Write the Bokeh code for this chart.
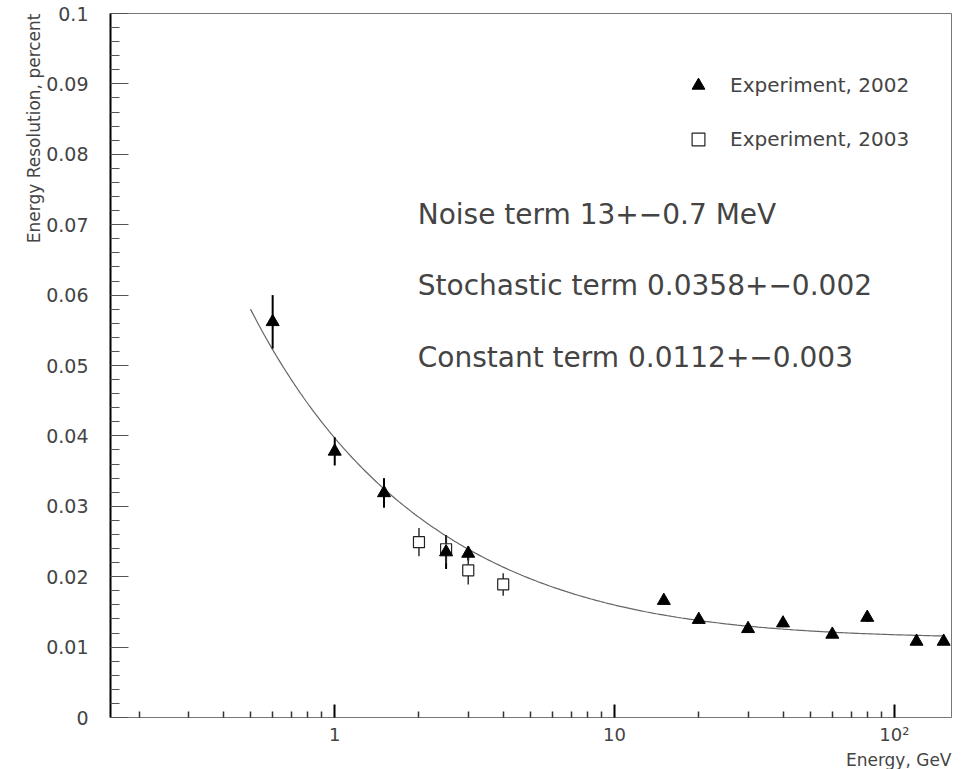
import numpy as np
from bokeh.plotting import figure
from bokeh.models import FixedTicker, Label, Legend, LegendItem, Title
from bokeh.embed import file_html
from bokeh.resources import INLINE

# ---------------- data ----------------
e2002 = [0.6, 1.0, 1.5, 2.5, 3.0, 15, 20, 30, 40, 60, 80, 120, 150]
r2002 = [0.0562, 0.0378, 0.0319, 0.0235, 0.0233, 0.0166, 0.0139, 0.0126, 0.0134, 0.0118, 0.0142, 0.0108, 0.0108]
err2002 = [0.0038, 0.0020, 0.0021, 0.0024, 0.0010, 0.0005, 0.0003, 0.0003, 0.0003, 0.0003, 0.0006, 0.0003, 0.0003]

e2003 = [2.0, 2.5, 3.0, 4.0]
r2003 = [0.0249, 0.0239, 0.0209, 0.0189]
err2003 = [0.0020, 0.0020, 0.0020, 0.0016]

# fit parameters (GeV units)
noise_term = 0.013
stochastic_term = 0.0358
constant_term = 0.0112
fit_range = (0.5, 150)

x_major = [1, 10, 100]
x_labels = {1: "1", 10: "10", 100: "10\u00b2"}
x_minor = [0.2, 0.3, 0.4, 0.5, 0.6, 0.7, 0.8, 0.9,
           2, 3, 4, 5, 6, 7, 8, 9,
           20, 30, 40, 50, 60, 70, 80, 90]
y_major = [0, 0.01, 0.02, 0.03, 0.04, 0.05, 0.06, 0.07, 0.08, 0.09, 0.1]
y_labels = ["0", "0.01", "0.02", "0.03", "0.04", "0.05", "0.06", "0.07", "0.08", "0.09", "0.1"]
y_minor = [0.002, 0.004, 0.006, 0.008, 0.012, 0.014, 0.016, 0.018,
           0.022, 0.024, 0.026, 0.028, 0.032, 0.034, 0.036, 0.038,
           0.042, 0.044, 0.046, 0.048, 0.052, 0.054, 0.056, 0.058,
           0.062, 0.064, 0.066, 0.068, 0.072, 0.074, 0.076, 0.078,
           0.082, 0.084, 0.086, 0.088, 0.092, 0.094, 0.096, 0.098]

fit_texts = ["Noise term 13+\u22120.7 MeV",
             "Stochastic term 0.0358+\u22120.002",
             "Constant term 0.0112+\u22120.003"]
fit_text_y = [0.0715, 0.0614, 0.0512]

FONT = "DejaVu Sans"
TXT = "#444444"

# ---------------- figure ----------------
p = figure(width=966, height=769, x_axis_type="log",
           x_range=(0.158, 160), y_range=(0, 0.1),
           output_backend="svg", toolbar_location=None,
           min_border_left=110, min_border_right=15,
           min_border_top=13, min_border_bottom=52)
p.grid.grid_line_color = None
p.background_fill_color = "white"
p.border_fill_color = "white"
p.outline_line_color = "#777777"
p.outline_line_width = 1

# x axis
xa = p.xaxis[0]
xa.ticker = FixedTicker(ticks=x_major, minor_ticks=x_minor)
xa.major_label_overrides = x_labels
xa.major_tick_in = 13
xa.major_tick_out = 0
xa.minor_tick_in = 6
xa.minor_tick_out = 0
xa.major_tick_line_color = "black"
xa.major_tick_line_width = 2
xa.minor_tick_line_color = "#333333"
xa.minor_tick_line_width = 1.5
xa.axis_line_color = "#777777"
xa.axis_line_width = 1
xa.major_label_standoff = 6
xa.major_label_text_font = FONT
xa.major_label_text_font_size = "18px"
xa.major_label_text_color = TXT

# y axis
ya = p.yaxis[0]
ya.ticker = FixedTicker(ticks=y_major, minor_ticks=y_minor)
ya.major_label_overrides = {v: s for v, s in zip(y_major, y_labels)}
ya.major_tick_in = 18
ya.major_tick_out = 0
ya.minor_tick_in = 9
ya.minor_tick_out = 0
ya.major_tick_line_color = "#555555"
ya.minor_tick_line_color = "#555555"
ya.major_tick_line_width = 1
ya.minor_tick_line_width = 1
ya.axis_line_color = "black"
ya.axis_line_width = 2
ya.major_label_standoff = 22
ya.major_label_text_font = FONT
ya.major_label_text_font_size = "19px"
ya.major_label_text_color = TXT

# axis titles as side titles (aligned to the far end like the reference)
p.add_layout(Title(text="Energy, GeV", align="right", text_font=FONT,
                   text_font_size="17px", text_font_style="normal",
                   text_color=TXT, standoff=0, offset=0), "below")
p.add_layout(Title(text="Energy Resolution, percent", align="right", text_font=FONT,
                   text_font_size="17px", text_font_style="normal",
                   text_color=TXT, standoff=0, offset=0), "left")

# ---------------- fit curve ----------------
ef = np.geomspace(fit_range[0], fit_range[1], 300)
rf = np.sqrt((stochastic_term / np.sqrt(ef)) ** 2 + (noise_term / ef) ** 2 + constant_term ** 2)
p.line(ef, rf, line_color="#666666", line_width=1.2)

# ---------------- error bars ----------------
p.segment(x0=e2002, x1=e2002,
          y0=[r - e for r, e in zip(r2002, err2002)],
          y1=[r + e for r, e in zip(r2002, err2002)],
          line_color="black", line_width=2)
p.segment(x0=e2003, x1=e2003,
          y0=[r - e for r, e in zip(r2003, err2003)],
          y1=[r + e for r, e in zip(r2003, err2003)],
          line_color="#333333", line_width=1.5)

# ---------------- markers ----------------
sq = p.scatter(e2003, r2003, marker="square", size=11,
               fill_color="white", line_color="#222222", line_width=1.2)
tri = p.scatter(e2002, r2002, marker="triangle", size=13,
                fill_color="black", line_color="black")

legend = Legend(items=[LegendItem(label="Experiment, 2002", renderers=[tri]),
                       LegendItem(label="Experiment, 2003", renderers=[sq])],
                location=(572, 562), orientation="vertical",
                border_line_color=None, background_fill_alpha=0,
                padding=0, margin=0, spacing=22,
                glyph_width=32, glyph_height=32, label_height=32,
                label_standoff=16,
                label_text_font=FONT, label_text_font_size="20px",
                label_text_color=TXT)
p.add_layout(legend)

# ---------------- fit text ----------------
for t, yv in zip(fit_texts, fit_text_y):
    p.add_layout(Label(x=1.98, y=yv, text=t, text_font=FONT,
                       text_font_size="28px", text_color=TXT,
                       text_baseline="middle", text_align="left"))

open("out.html", "w").write(file_html(p, INLINE))
